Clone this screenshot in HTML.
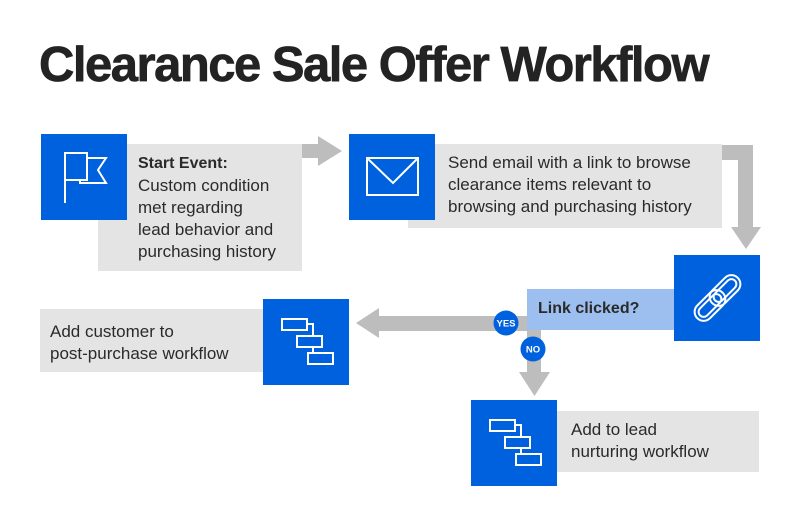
<!DOCTYPE html>
<html><head><meta charset="utf-8"><style>
html,body{margin:0;padding:0;background:#fff;}
body{width:800px;height:517px;position:relative;overflow:hidden;font-family:"Liberation Sans",Arial,sans-serif;}
.t{position:absolute;font-size:17px;line-height:22px;color:#2a2a2a;white-space:nowrap;}
.t b{font-size:16px;}
#title{position:absolute;left:39px;top:41px;font-size:49px;line-height:49px;font-weight:bold;letter-spacing:-1.5px;color:#232323;-webkit-text-stroke:0.7px #232323;white-space:nowrap;}
svg{position:absolute;left:0;top:0;}
</style></head><body>
<svg width="800" height="517" viewBox="0 0 800 517">
  <!-- gray boxes -->
  <rect x="98" y="144" width="204" height="127" fill="#e4e4e4"/>
  <rect x="408" y="144" width="314" height="84" fill="#e4e4e4"/>
  <rect x="40" y="309" width="223" height="63" fill="#e4e4e4"/>
  <rect x="557" y="411" width="202" height="61" fill="#e4e4e4"/>
  <!-- arrows -->
  <g fill="#bdbdbd">
    <rect x="302" y="144" width="16" height="14"/>
    <polygon points="318,136 342,151 318,166"/>
    <polygon points="722,145 753,145 753,227 761,227 746,249 731,227 738,227 738,160 722,160"/>
    <rect x="379" y="316" width="150" height="15"/>
    <polygon points="379,308 356,323 379,338"/>
    <rect x="527" y="329" width="14" height="43"/>
    <polygon points="519,372 550,372 534.5,396"/>
  </g>
  <!-- decision box -->
  <rect x="527" y="289" width="147" height="41" fill="#9dbff0"/>
  <!-- blue squares -->
  <g fill="#0061df">
    <rect x="41" y="134" width="86" height="86"/>
    <rect x="349" y="134" width="86" height="86"/>
    <rect x="674" y="255" width="86" height="86"/>
    <rect x="263" y="299" width="86" height="86"/>
    <rect x="471" y="400" width="86" height="86"/>
  </g>
  <!-- flag icon -->
  <g fill="none" stroke="#fff" stroke-width="2" stroke-linejoin="miter">
    <line x1="65" y1="152" x2="65" y2="203"/>
    <path d="M65,153 H87 V180 H65"/>
    <path d="M87,158 H106 L98,170 L106,183 H80 V180"/>
  </g>
  <!-- envelope -->
  <g fill="none" stroke="#fff" stroke-width="2">
    <rect x="367" y="158" width="51" height="37"/>
    <path d="M367,158 L393,183 L418,158"/>
  </g>
  <!-- link icon -->
  <g fill="none" stroke="#fff" stroke-width="2">
    <g transform="translate(710,305.5) rotate(-45)">
      <rect x="-18" y="-9" width="36" height="18" rx="9"/>
      <rect x="-14" y="-5" width="28" height="10" rx="5"/>
    </g>
    <g transform="translate(725,290.5) rotate(-45)">
      <rect x="-18" y="-9" width="36" height="18" rx="9"/>
      <rect x="-14" y="-5" width="28" height="10" rx="5"/>
    </g>
  </g>
  <!-- workflow icons -->
  <g fill="none" stroke="#fff" stroke-width="2">
    <g transform="translate(263,299)">
      <rect x="19" y="20" width="25" height="11"/>
      <rect x="34" y="37" width="25" height="11"/>
      <rect x="45" y="54" width="25" height="11"/>
      <path d="M44,25 H50 V37 M50,48 V54"/>
    </g>
    <g transform="translate(471,400)">
      <rect x="19" y="20" width="25" height="11"/>
      <rect x="34" y="37" width="25" height="11"/>
      <rect x="45" y="54" width="25" height="11"/>
      <path d="M44,25 H50 V37 M50,48 V54"/>
    </g>
  </g>
  <!-- yes/no circles -->
  <circle cx="506" cy="323" r="12.5" fill="#0061df"/>
  <circle cx="533" cy="349" r="12.5" fill="#0061df"/>
  <text x="506" y="326.5" font-family="Liberation Sans, Arial, sans-serif" font-size="9.5" font-weight="bold" fill="#fff" text-anchor="middle">YES</text>
  <text x="533" y="352.5" font-family="Liberation Sans, Arial, sans-serif" font-size="9.5" font-weight="bold" fill="#fff" text-anchor="middle">NO</text>
</svg>
<div id="title">Clearance Sale Offer Workflow</div>
<div class="t" style="left:138px;top:152px;"><b>Start Event:</b><br>Custom condition<br>met regarding<br>lead behavior and<br>purchasing history</div>
<div class="t" style="left:448px;top:152px;">Send email with a link to browse<br>clearance items relevant to<br>browsing and purchasing history</div>
<div class="t" style="left:538px;top:298px;font-weight:bold;font-size:16px;">Link clicked?</div>
<div class="t" style="left:50px;top:321px;">Add customer to<br>post-purchase workflow</div>
<div class="t" style="left:571px;top:419px;">Add to lead<br>nurturing workflow</div>
</body></html>
